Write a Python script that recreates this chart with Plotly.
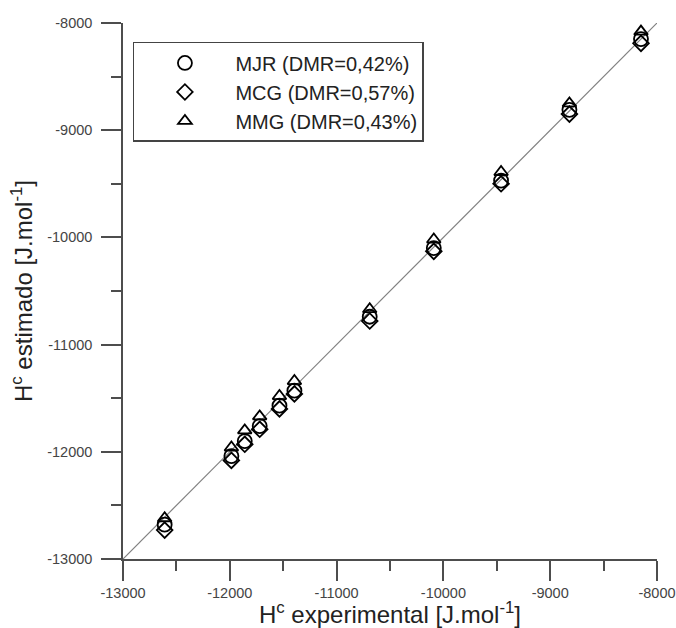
import plotly.graph_objects as go

# ---- data ----
h_experimental = [-12610, -11985, -11860, -11720, -11535, -11395, -10690, -10090, -9460, -8820, -8150]
mjr_estimated = [-12680, -12040, -11900, -11760, -11570, -11430, -10740, -10100, -9470, -8810, -8150]
mcg_estimated = [-12730, -12080, -11930, -11790, -11600, -11460, -10780, -10130, -9500, -8850, -8190]
mmg_estimated = [-12620, -11960, -11800, -11670, -11480, -11340, -10670, -10020, -9390, -8750, -8080]

series_names = ["MJR (DMR=0,42%)", "MCG (DMR=0,57%)", "MMG (DMR=0,43%)"]
identity_line = [-13000, -8000]

tick_vals = [-13000, -12000, -11000, -10000, -9000, -8000]
tick_text = ["-13000", "-12000", "-11000", "-10000", "-9000", "-8000"]

FONT = "Liberation Sans, Arial, sans-serif"

fig = go.Figure()

fig.add_trace(go.Scatter(
    x=identity_line, y=identity_line, mode="lines",
    line=dict(color="#808080", width=1.2), showlegend=False, hoverinfo="skip"))

marker_specs = [
    (mjr_estimated, "circle-open", 14),
    (mcg_estimated, "diamond-open", 12),
    (mmg_estimated, "triangle-up-open", 12),
]
for (vals, sym, size), name in zip(marker_specs, series_names):
    fig.add_trace(go.Scatter(
        x=h_experimental, y=vals, mode="markers", name=name,
        marker=dict(symbol=sym, size=size, color="black", line=dict(color="black", width=1.8))))

axis_common = dict(
    range=[-13000, -8000],
    tickvals=tick_vals, ticktext=tick_text,
    showline=True, linecolor="#4d4d4d", linewidth=1.5,
    ticks="outside", ticklen=20, tickwidth=1.5, tickcolor="#4d4d4d",
    minor=dict(dtick=500, ticks="outside", ticklen=10, tickwidth=1.5, tickcolor="#4d4d4d", showgrid=False),
    showgrid=False, zeroline=False, automargin=False, ticklabeloverflow="allow",
    tickfont=dict(family=FONT, size=14.5, color="#444444"),
)

fig.update_layout(
    width=676, height=628,
    margin=dict(l=123, r=19, t=23, b=69),
    paper_bgcolor="white", plot_bgcolor="white",
    font=dict(family=FONT, color="#222222"),
    xaxis=dict(**axis_common,
               title=dict(text="H<sup>c</sup> experimental [J.mol<sup>-1</sup>]",
                          font=dict(family=FONT, size=24, color="#222222"), standoff=2)),
    yaxis=dict(**axis_common, ticklabelstandoff=6,
               title=dict(text="H<sup>c</sup> estimado [J.mol<sup>-1</sup>]",
                          font=dict(family=FONT, size=24, color="#222222"), standoff=8)),
    legend=dict(x=0.0186, y=0.9646, xanchor="left", yanchor="top",
                bgcolor="white", bordercolor="#444444", borderwidth=1.5,
                font=dict(family=FONT, size=20, color="#222222"),
                itemwidth=91, tracegroupgap=0, entrywidth=300, entrywidthmode="pixels"),
    showlegend=True,
)

fig.write_html("out.html")
